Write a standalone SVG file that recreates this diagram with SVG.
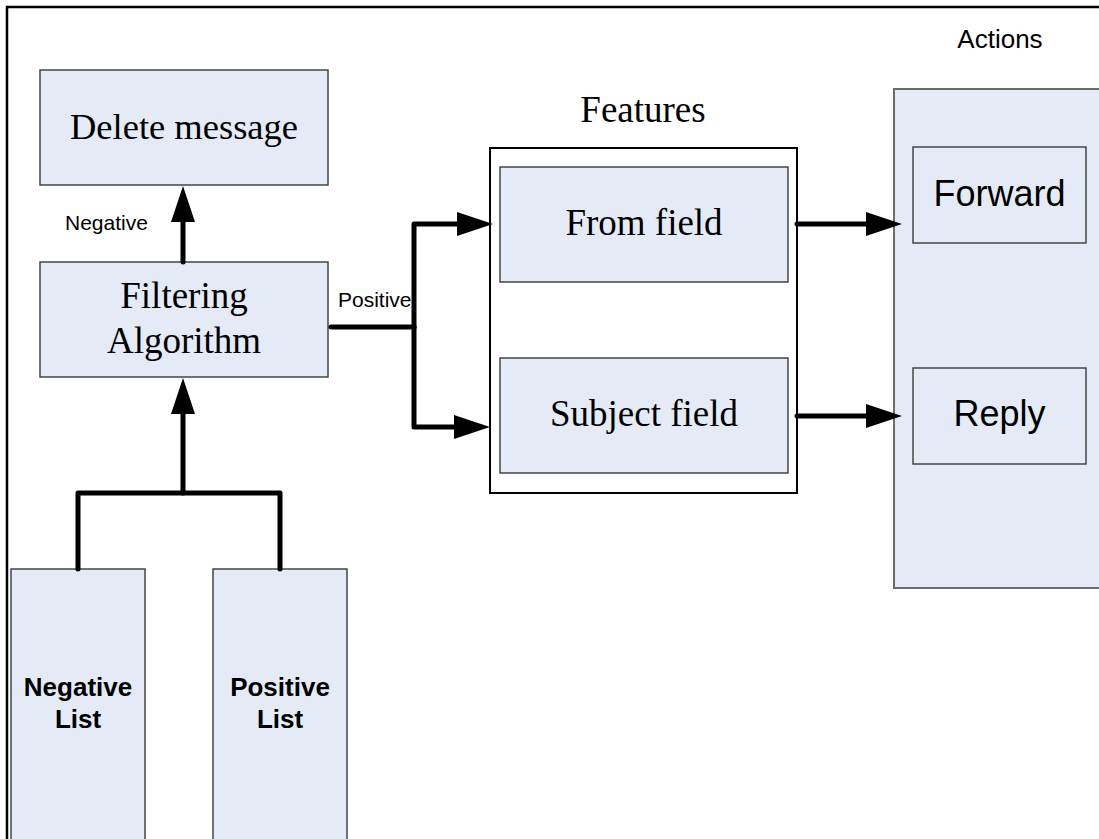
<svg xmlns="http://www.w3.org/2000/svg" width="1099" height="839" viewBox="0 0 1099 839">
  <style>
    .box { fill: #e5ebf6; stroke: #3a3a3a; stroke-width: 1.4; }
    .panel { fill: #e5ebf6; stroke: #6b6b6b; stroke-width: 2; }
    .group { fill: #ffffff; stroke: #000000; stroke-width: 2; }
    .serif { font-family: "Liberation Serif", "Times New Roman", serif; fill: #000; text-anchor: middle; }
    .sans { font-family: "Liberation Sans", Arial, sans-serif; fill: #000; }
    .mid { text-anchor: middle; }
    .bold { font-weight: bold; }
    .wire { fill: none; stroke: #000; stroke-width: 5; stroke-linecap: round; stroke-linejoin: round; }
  </style>
  <defs>
    <marker id="arrow" viewBox="0 0 36 24" refX="6" refY="12" markerWidth="36" markerHeight="24" markerUnits="userSpaceOnUse" orient="auto">
      <path d="M0,0 L36,12 L0,24 Z" fill="#000"/>
    </marker>
  </defs>

  <rect width="1099" height="839" fill="#ffffff"/>
  <!-- outer frame (left and top edges) -->
  <path d="M7,839 V7 H1099" fill="none" stroke="#000" stroke-width="2.5"/>

  <g id="delete-message">
    <rect class="box" x="40" y="70" width="288" height="115"/>
    <text class="serif" x="184" y="139" font-size="36.5">Delete message</text>
  </g>

  <g id="filtering-algorithm">
    <rect class="box" x="40" y="262" width="288" height="115"/>
    <text class="serif" x="184" y="308" font-size="37">Filtering</text>
    <text class="serif" x="184" y="353" font-size="37">Algorithm</text>
  </g>

  <g id="negative-list">
    <rect class="box" x="11" y="569" width="134" height="280"/>
    <text class="sans mid bold" x="78" y="696" font-size="26">Negative</text>
    <text class="sans mid bold" x="78" y="728" font-size="26">List</text>
  </g>

  <g id="positive-list">
    <rect class="box" x="213" y="569" width="134" height="280"/>
    <text class="sans mid bold" x="280" y="696" font-size="26">Positive</text>
    <text class="sans mid bold" x="280" y="728" font-size="26">List</text>
  </g>

  <g id="features">
    <text class="serif" x="643" y="122" font-size="37">Features</text>
    <rect class="group" x="490" y="148" width="307" height="345"/>
    <g id="from-field">
      <rect class="box" x="500" y="167" width="288" height="115"/>
      <text class="serif" x="644" y="235" font-size="37">From field</text>
    </g>
    <g id="subject-field">
      <rect class="box" x="500" y="358" width="288" height="115"/>
      <text class="serif" x="644" y="426" font-size="37">Subject field</text>
    </g>
  </g>

  <g id="actions">
    <text class="sans mid" x="1000" y="48" font-size="26">Actions</text>
    <rect class="panel" x="894" y="89" width="215" height="499"/>
    <g id="forward">
      <rect class="box" x="913" y="147" width="173" height="96"/>
      <text class="sans mid" x="999.5" y="206" font-size="36">Forward</text>
    </g>
    <g id="reply">
      <rect class="box" x="913" y="368" width="173" height="96"/>
      <text class="sans mid" x="999.5" y="426" font-size="36">Reply</text>
    </g>
  </g>

  <g id="connectors">
    <!-- lists merge into the filter -->
    <path class="wire" d="M78,569 V493 H280 V569"/>
    <path class="wire" d="M183,493 V408" marker-end="url(#arrow)"/>
    <!-- negative result -->
    <path class="wire" d="M183,262 V216" marker-end="url(#arrow)"/>
    <text class="sans" x="65" y="230" font-size="21">Negative</text>
    <!-- positive result splits to the features -->
    <path class="wire" d="M331,327 H414"/>
    <path class="wire" d="M414,327 V224 H463" marker-end="url(#arrow)"/>
    <path class="wire" d="M414,327 V427 H460" marker-end="url(#arrow)"/>
    <text class="sans" x="338" y="306.5" font-size="21">Positive</text>
    <!-- features to actions -->
    <path class="wire" d="M797,224 H872" marker-end="url(#arrow)"/>
    <path class="wire" d="M797,416 H872" marker-end="url(#arrow)"/>
  </g>
</svg>
